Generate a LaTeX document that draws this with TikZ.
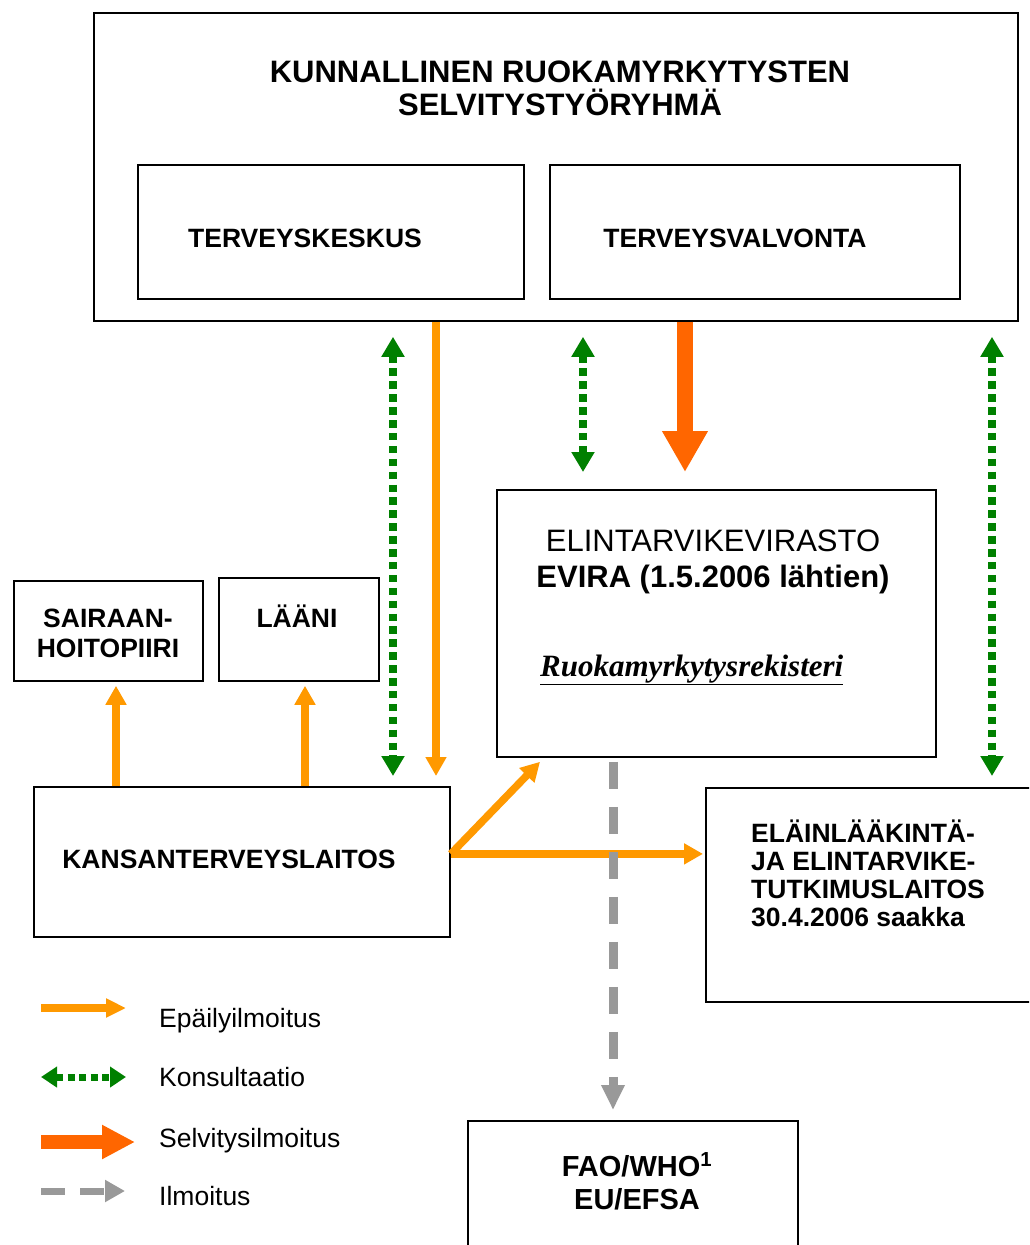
\documentclass[tikz,border=0pt]{standalone}
\usepackage{fontspec}
\setmainfont{Liberation Sans}
\newfontfamily\serifR{Liberation Serif}
\usetikzlibrary{arrows.meta,calc}
\definecolor{orA}{RGB}{255,153,0}
\definecolor{orB}{RGB}{255,102,0}
\definecolor{grA}{RGB}{0,128,0}
\definecolor{gyA}{RGB}{153,153,153}
\begin{document}
\begin{tikzpicture}[x=1pt,y=-1pt,
  box/.style={draw=black, line width=1.8pt, inner sep=0pt, anchor=north west},
  bt/.style={font=\fontsize{26.5}{30}\selectfont\bfseries, inner sep=0pt, anchor=base},
  btl/.style={bt, anchor=base west},
  big/.style={font=\fontsize{31}{35}\selectfont\bfseries, inner sep=0pt, anchor=base},
  bigr/.style={font=\fontsize{31}{35}\selectfont, inner sep=0pt, anchor=base},
  legt/.style={font=\fontsize{26.5}{30}\selectfont, inner sep=0pt, anchor=base west},
  epa/.style={draw=orA, line width=7.5pt, arrows={-Triangle[width=20pt,length=19pt]}},
  kons/.style={draw=grA, line width=7.5pt, dash pattern=on 7.5pt off 5.4pt,
     arrows={Triangle[width=22pt,length=20pt]-Triangle[width=22pt,length=20pt]}},
  selv/.style={draw=orB, line width=16pt, arrows={-Triangle[width=43pt,length=41pt]}},
  ilm/.style={draw=gyA, line width=9pt, dash pattern=on 27pt off 18pt,
     arrows={-Triangle[width=22pt,length=25pt]}},
  lepa/.style={draw=orA, line width=8pt, arrows={-Triangle[width=18pt,length=20pt]}},
  lkons/.style={draw=grA, line width=7pt, dash pattern=on 7pt off 4.5pt,
     arrows={Triangle[width=20pt,length=16pt]-Triangle[width=20pt,length=16pt]}},
  lselv/.style={draw=orB, line width=14pt, arrows={-Triangle[width=32pt,length=33pt]}},
  lilm/.style={draw=gyA, line width=7pt, dash pattern=on 24pt off 15pt,
     arrows={-Triangle[width=21pt,length=20pt]}}
]
\useasboundingbox (0,0) rectangle (1029,1245);
\clip (0,0) rectangle (1029,1245);
\fill[white] (0,0) rectangle (1029,1245);

% boxes
\node[box, minimum width=924pt, minimum height=308pt] (top) at (93,12) {};
\node[box, minimum width=386pt, minimum height=134pt] (tk) at (137,164) {};
\node[box, minimum width=410pt, minimum height=134pt] (tv) at (549,164) {};
\node[box, minimum width=439pt, minimum height=267pt] (evira) at (496,489) {};
\node[box, minimum width=189pt, minimum height=100pt] (shp) at (13,580) {};
\node[box, minimum width=160pt, minimum height=103pt] (laani) at (218,577) {};
\node[box, minimum width=416pt, minimum height=150pt] (kansan) at (33,786) {};
\node[box, minimum width=340pt, minimum height=214pt] (elain) at (705,787) {};
\node[box, minimum width=330pt, minimum height=150pt] (fao) at (467,1120) {};

% texts
\node[big] (t1) at (560,82) {KUNNALLINEN RUOKAMYRKYTYSTEN};
\node[big] (t2) at (560,115) {SELVITYSTYÖRYHMÄ};
\node[bt] (tkt) at (305,247) {TERVEYSKESKUS};
\node[bt] (tvt) at (735,247) {TERVEYSVALVONTA};
\node[bigr] (ev1) at (713,551) {ELINTARVIKEVIRASTO};
\node[big] (ev2) at (713,587) {EVIRA (1.5.2006 lähtien)};
\node[inner sep=0pt, anchor=base west, font=\fontsize{31}{35}\selectfont\serifR\bfseries\itshape] (ev3) at (540,676) {\underline{Ruokamyrkytysrekisteri}};
\node[bt] (shp1) at (108,627) {SAIRAAN-};
\node[bt] (shp2) at (108,657) {HOITOPIIRI};
\node[bt] (lt) at (297,627) {LÄÄNI};
\node[bt] (kt) at (229,868) {KANSANTERVEYSLAITOS};
\node[btl] (el1) at (751,842) {ELÄINLÄÄKINTÄ-};
\node[btl] (el2) at (751,870) {JA ELINTARVIKE-};
\node[btl] (el3) at (751,898) {TUTKIMUSLAITOS};
\node[btl] (el4) at (751,926) {30.4.2006 saakka};
\node[bt, font=\fontsize{29}{32}\selectfont\bfseries] (f1) at (637,1176) {FAO/WHO\textsuperscript{1}};
\node[bt, font=\fontsize{29}{32}\selectfont\bfseries] (f2) at (637,1209) {EU/EFSA};

% helper x positions
\coordinate (x116) at (116,0);
\coordinate (x305) at (305,0);
\coordinate (x393) at (393,0);
\coordinate (x436) at (436,0);
\coordinate (x583) at (583,0);
\coordinate (x613) at (613,0);
\coordinate (x685) at (685,0);
\coordinate (x992) at (992,0);

% connectors
\draw[kons] ($(top.south -| x393)+(0,15)$) -- ($(kansan.north -| x393)+(0,-10)$);
\draw[epa] (top.south -| x436) -- ($(kansan.north -| x436)+(0,-10)$);
\draw[kons] ($(top.south -| x583)+(0,15)$) -- ($(evira.north -| x583)+(0,-17)$);
\draw[selv] (top.south -| x685) -- ($(evira.north -| x685)+(0,-17)$);
\draw[kons] ($(top.south -| x992)+(0,15)$) -- ($(elain.north -| x992)+(0,-11)$);
\draw[epa] (kansan.north -| x116) -- ($(shp.south -| x116)+(0,4)$);
\draw[epa] (kansan.north -| x305) -- ($(laani.south -| x305)+(0,4)$);
\coordinate (ks) at ($(kansan.east)+(0,-8)$);
\draw[epa] (ks) -- ($(evira.south west)+(44,4)$);
\draw[epa, shorten >=2pt] (ks) -- (ks -| elain.west);
\draw[ilm] ($(evira.south -| x613)+(0,4)$) -- ($(fao.north -| x613)+(0,-10)$);

% legend
\coordinate (l1a) at (41,1008); \coordinate (l1b) at (126,1008);
\coordinate (l2a) at (41,1077); \coordinate (l2b) at (126,1077);
\coordinate (l3a) at (41,1142); \coordinate (l3b) at (135,1142);
\coordinate (l4a) at (41,1191); \coordinate (l4b) at (125,1191);
\draw[lepa] (l1a) -- (l1b);
\draw[lkons] (l2a) -- (l2b);
\draw[lselv] (l3a) -- (l3b);
\draw[lilm] (l4a) -- (l4b);
\node[legt] (lt1) at (159,1027) {Epäilyilmoitus};
\node[legt] (lt2) at (159,1086) {Konsultaatio};
\node[legt] (lt3) at (159,1147) {Selvitysilmoitus};
\node[legt] (lt4) at (159,1205) {Ilmoitus};
\end{tikzpicture}
\end{document}
